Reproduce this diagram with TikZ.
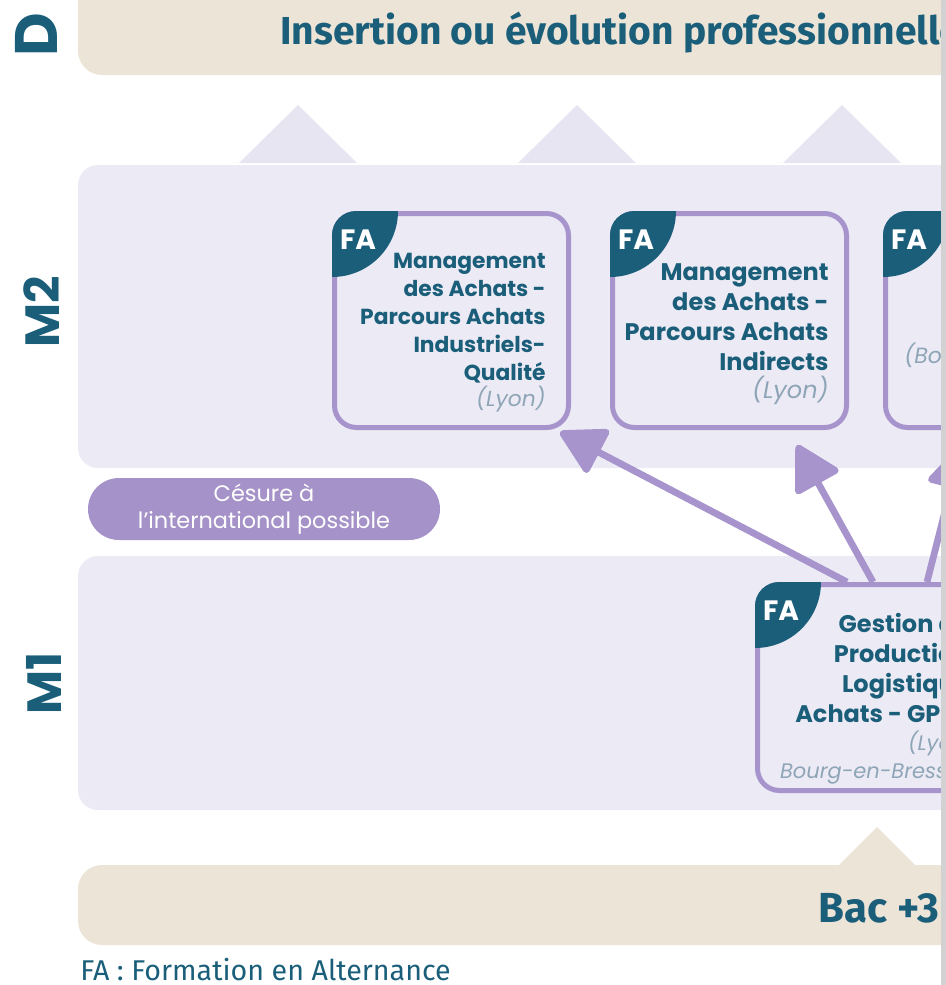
\documentclass[tikz,border=0pt]{standalone}
\usepackage{fontspec}
\setmainfont{Poppins}
\newfontfamily\narrowfont{Fira Sans}
\usetikzlibrary{arrows.meta, calc, positioning}

\definecolor{tealdark}{HTML}{1A5E79}
\definecolor{beige}{HTML}{EDE4D8}
\definecolor{lavpanel}{HTML}{ECEAF5}
\definecolor{lavpeak}{HTML}{E7E5F1}
\definecolor{purpleline}{HTML}{A794CC}
\definecolor{pillpurple}{HTML}{A592C8}
\definecolor{towngray}{HTML}{8DA5B6}
\definecolor{edgegray}{HTML}{D2D2D2}

\tikzset{
    my-band/.style={
        fill=beige, rounded corners=12pt, inner sep=0pt
    },
    my-panel/.style={
        fill=lavpanel, rounded corners=10pt, inner sep=0pt
    },
    my-box/.style={
        draw=purpleline, line width=2.5pt, rounded corners=11pt, minimum width=117pt, inner sep=0pt
    },
    my-tab/.style={
        fill=tealdark
    },
    my-fa/.style={
        text=white, font=\fontsize{14}{14}\selectfont\bfseries, inner sep=0pt
    },
    my-title/.style={
        text=tealdark, font=\fontsize{10.9}{14}\selectfont\bfseries, align=right, anchor=north east, inner sep=0pt
    },
    my-town/.style={
        text=towngray, font=\mdseries\itshape
    },
    my-level/.style={
        text=tealdark, font=\fontsize{24}{24}\selectfont\bfseries, rotate=90, inner sep=0pt
    },
    my-arrow/.style={
        draw=purpleline, line width=3.4pt, -{Triangle[length=24pt, width=26pt, round]}
    },
}

\begin{document}
\begin{tikzpicture}[x=0.5pt, y=-0.5pt]

        \useasboundingbox (0,0) rectangle (946,985);
        \clip (0,0) rectangle (946,985);

        % BANDS AND PANELS
        \node[my-band, minimum width=561pt, minimum height=57.5pt] (TOPBAND) at (639,17.5) {};
        \node[my-panel, minimum width=561pt, minimum height=151.5pt] (M2PANEL) at (639,316.5) {};
        \node[my-panel, minimum width=561pt, minimum height=127pt] (M1PANEL) at (639,683) {};
        \node[my-band, minimum width=561pt, minimum height=40pt] (BOTBAND) at (639,905) {};

        % PEAKS
        \foreach \x in {298, 577, 842} {
            \fill[lavpeak] (\x-59,163) -- (\x,105) -- (\x+59,163) -- cycle;
        }
        \fill[beige] (838,866) -- (877,827) -- (916,866) -- cycle;

        % LEVELS AND BAND TEXTS
        \node[my-level, font=\fontsize{30}{30}\selectfont\bfseries] (LVLD) at (36,35) {D};
        \node[my-level] (LVLM2) at (42,312) {M2};
        \node[my-level] (LVLM1) at (44,683) {M1};
        \node[anchor=west, inner sep=0pt, text=tealdark, font=\narrowfont\bfseries\fontsize{19.5}{19.5}\selectfont] (INSERTION) at (280,33) {Insertion ou évolution professionnelle};
        \node[anchor=base west, inner sep=0pt, text=tealdark, font=\narrowfont\bfseries\fontsize{21}{21}\selectfont] (BAC3) at (818,922) {Bac +3};
        \node[anchor=base west, inner sep=0pt, text=tealdark, font=\narrowfont\fontsize{14.3}{14.3}\selectfont] (LEGEND) at (80,980) {FA : Formation en Alternance};

        % GAP YEAR
        \node[fill=pillpurple, rounded corners=15.5pt, minimum width=176pt, minimum height=31pt, inner sep=0pt,
              text=white, align=center, font=\fontsize{11.2}{13.5}\selectfont] (CESURE) at (264,509) {Césure à\\l’international possible};

        % M2 BOXES
        \node[my-box, minimum height=107pt] (MAIQ)   at (451.5,320.5)          {};
        \node[my-box, minimum height=107pt] (MAIND)  at ($(MAIQ) + (278,0)$)   {};
        \node[my-box, minimum height=107pt] (MBOURG) at ($(MAIND) + (273,0)$)  {};

        % M1 BOX
        \node[my-box, minimum height=103pt] (GPLA)   at (874.5,687.5)          {};

        % FA TABS
        \foreach \boxname in {MAIQ, MAIND, MBOURG, GPLA} {
            \begin{scope}
                \clip[rounded corners=12pt] (\boxname.north west) rectangle (\boxname.south east);
                \fill[my-tab] (\boxname.north west) circle (66);
            \end{scope}
            \node[my-fa] at ($(\boxname.north west) + (26,29)$) {FA};
        }

        % BOX TEXTS
        \node[my-title] (MAIQTXT) at ($(MAIQ.north east) + (-25,42)$)
            {Management\\des Achats -\\Parcours Achats\\Industriels-\\Qualité\\[-1pt]{\color{towngray}\mdseries\itshape (Lyon)}};
        \node[my-title, font=\fontsize{12}{15}\selectfont\bfseries] (MAINDTXT) at ($(MAIND.north east) + (-20,52)$)
            {Management\\des Achats -\\Parcours Achats\\Indirects\\[-1pt]{\color{towngray}\mdseries\itshape (Lyon)}};
        \node[my-town, anchor=base west, inner sep=0pt, font=\fontsize{11}{14}\selectfont\mdseries\itshape] (MBOURGTXT) at ($(MBOURG.north west) + (21,152)$)
            {(Bourg-en-Bresse)};
        \node[my-title, font=\fontsize{12}{15}\selectfont\bfseries] (GPLATXT) at ($(GPLA.north east) + (-24,31)$)
            {Gestion de\\Production\\Logistique\\Achats - GPLA\\[-1pt]{\color{towngray}\fontsize{10.5}{13}\selectfont\mdseries\itshape (Lyon,}\\[-1pt]{\color{towngray}\fontsize{10.5}{13}\selectfont\mdseries\itshape Bourg-en-Bresse)}};

        % ARROW END POINTS
        \coordinate (GPLAOUT1) at ($(GPLA.north) + (-27.5,0)$);
        \coordinate (GPLAOUT2) at ($(GPLA.north) + (-1.5,0)$);
        \coordinate (GPLAOUT3) at ($(GPLA.north) + (52.5,0)$);
        \coordinate (MAIQIN)   at ($(MAIQ.south east) + (-11,2)$);
        \coordinate (MAINDIN)  at ($(MAIND.south east) + (-52,15)$);
        \coordinate (MBOURGIN) at ($(MBOURG.south west) + (79,15)$);

        % ARROWS
        \draw[my-arrow] (GPLAOUT1) -- (MAIQIN);
        \draw[my-arrow] (GPLAOUT2) -- (MAINDIN);
        \draw[my-arrow] (GPLAOUT3) -- (MBOURGIN);

        % RIGHT EDGE
        \fill[edgegray] (941,0) rectangle (946,985);

    \end{tikzpicture}
\end{document}
